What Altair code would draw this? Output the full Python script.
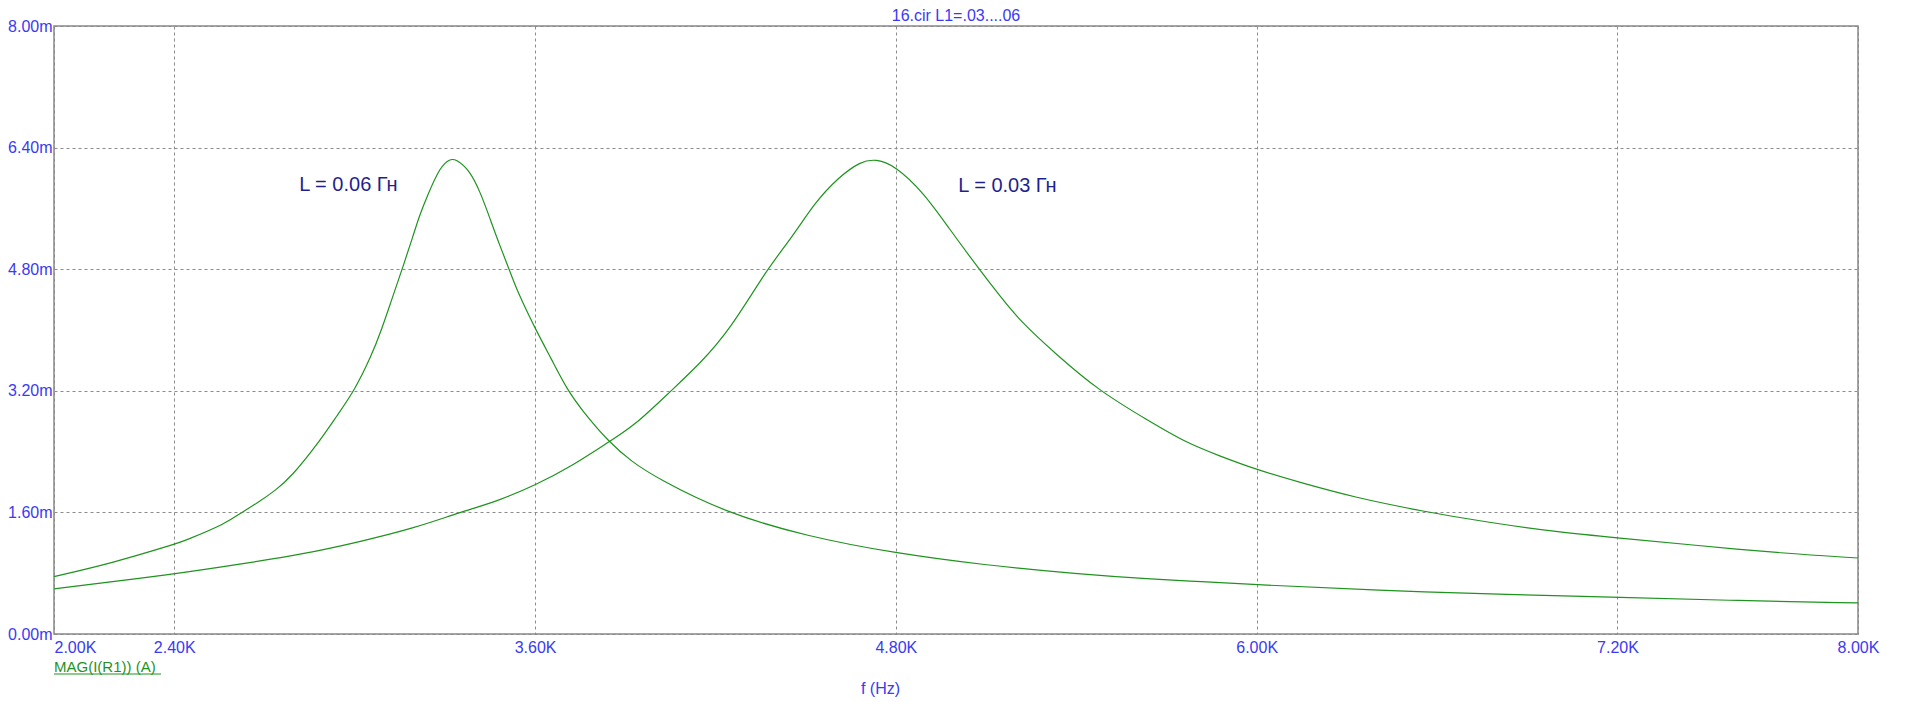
import altair as alt
import pandas as pd

# frequency in kHz, current magnitude in mA
freq_a = [2.0, 2.191, 2.4, 2.433, 2.573, 2.624, 2.674, 2.738, 2.789, 2.878, 2.942, 2.999, 3.056, 3.088,
          3.12, 3.158, 3.196, 3.215, 3.241, 3.285, 3.317, 3.336, 3.381, 3.419, 3.451, 3.483, 3.514, 3.54,
          3.601, 3.654, 3.705, 3.756, 3.845, 3.922, 4.008, 4.225, 4.505, 4.8, 5.09, 5.408, 5.645, 5.813,
          6.0, 6.397, 6.849, 7.2, 7.602, 8.0]
cur_a = [0.756, 0.931, 1.18, 1.224, 1.456, 1.6, 1.718, 1.893, 2.068, 2.505, 2.877, 3.2, 3.663, 3.99,
         4.363, 4.8, 5.259, 5.5, 5.762, 6.155, 6.25, 6.25, 6.11, 5.805, 5.456, 5.106, 4.8, 4.516,
         4.013, 3.62, 3.226, 2.942, 2.527, 2.264, 2.046, 1.609, 1.281, 1.062, 0.909, 0.787, 0.722, 0.691,
         0.648, 0.574, 0.517, 0.483, 0.439, 0.409]

freq_b = [2.0, 2.4, 2.636, 2.827, 3.018, 3.196, 3.349, 3.476, 3.601, 3.718, 3.845, 3.932, 4.053, 4.148,
          4.25, 4.371, 4.454, 4.53, 4.607, 4.683, 4.734, 4.797, 4.893, 4.975, 5.077, 5.141, 5.217, 5.332,
          5.472, 5.638, 5.765, 5.871, 6.0, 6.142, 6.322, 6.548, 6.774, 6.999, 7.2, 7.451, 7.752, 8.0]
cur_b = [0.595, 0.787, 0.931, 1.049, 1.215, 1.39, 1.6, 1.749, 1.958, 2.199, 2.527, 2.745, 3.204, 3.554,
         4.013, 4.8, 5.215, 5.674, 6.002, 6.221, 6.25, 6.164, 5.805, 5.347, 4.8, 4.472, 4.1, 3.685,
         3.209, 2.811, 2.517, 2.352, 2.161, 1.996, 1.8, 1.617, 1.465, 1.343, 1.265, 1.17, 1.061, 1.0]

x_ticks = [2.0, 2.4, 3.6, 4.8, 6.0, 7.2, 8.0]
y_ticks = [0.0, 1.6, 3.2, 4.8, 6.4, 8.0]

note_text = ["L = 0.06 Гн", "L = 0.03 Гн"]
note_f = [2.979, 5.171]
note_i = [5.908, 5.895]

title_text = "16.cir L1=.03....06"
trace_text = "MAG(I(R1)) (A)"
x_title = "f (Hz)"

FONT = "Liberation Sans"
BLUE = "#3a3af5"
NAVY = "#1f1f8f"
GREEN = "#1f931f"

curves = pd.concat([
    pd.DataFrame({"f": freq_a, "I": cur_a, "L": "0.06"}),
    pd.DataFrame({"f": freq_b, "I": cur_b, "L": "0.03"}),
])
notes = pd.DataFrame({"f": note_f, "I": note_i, "t": note_text})

xs = alt.Scale(domain=[2.0, 8.0], nice=False, zero=False)
ys = alt.Scale(domain=[0.0, 8.0], nice=False, zero=False)

x_axis = alt.Axis(
    values=x_ticks, labelExpr="format(datum.value, '.2f') + 'K'",
    labelFlush=False, labelOverlap=False,
    labelAlign=alt.condition("datum.value == 2", alt.value("left"), alt.value("center")),
    labelPadding=5, labelBaseline="top",
    title=x_title, titleX=826, titleY=54, titleAlign="center", titleBaseline="middle",
    titleFont=FONT, titleFontSize=16, titleFontWeight="normal", titleColor=BLUE,
)
y_axis = alt.Axis(
    values=y_ticks, labelExpr="format(datum.value, '.2f') + 'm'",
    labelPadding=2, labelFlush=False, labelOverlap=False, title=None,
)

lines = alt.Chart(curves).mark_line(color=GREEN, strokeWidth=1.2, interpolate="basis").encode(
    x=alt.X("f:Q", scale=xs, axis=x_axis),
    y=alt.Y("I:Q", scale=ys, axis=y_axis),
    detail="L:N",
    order=alt.Order("f:Q"),
)

note_marks = alt.Chart(notes).mark_text(
    font=FONT, fontSize=20, color=NAVY, align="center", baseline="middle"
).encode(x=alt.X("f:Q", scale=xs), y=alt.Y("I:Q", scale=ys), text="t:N")

title_mark = alt.Chart(pd.DataFrame({"t": [title_text]})).mark_text(
    font=FONT, fontSize=16, color=BLUE, align="center", baseline="middle"
).encode(x=alt.value(902), y=alt.value(-10), text="t:N")

trace_label = alt.Chart(pd.DataFrame({"t": [trace_text]})).mark_text(
    font=FONT, fontSize=15, color=GREEN, align="left", baseline="middle"
).encode(x=alt.value(0), y=alt.value(641), text="t:N")

underline = alt.Chart(pd.DataFrame({"t": [trace_text]})).mark_rule(
    color=GREEN, strokeWidth=1
).encode(x=alt.value(0), x2=alt.value(107), y=alt.value(648))

chart = alt.layer(lines, note_marks, title_mark, trace_label, underline).properties(
    width=1804, height=608,
    background="white",
    autosize=alt.AutoSizeParams(type="none"),
    padding={"left": 46, "top": 18, "right": 30, "bottom": 64},
).configure_view(
    stroke="#888888", strokeWidth=1.5
).configure_axis(
    domain=False, ticks=False, grid=True, gridDash=[3, 3], gridColor="#8c8c8c", gridWidth=1,
    labelFont=FONT, labelFontSize=16, labelColor=BLUE,
)

chart.save("out.html", embed_options={"renderer": "svg", "actions": False})
